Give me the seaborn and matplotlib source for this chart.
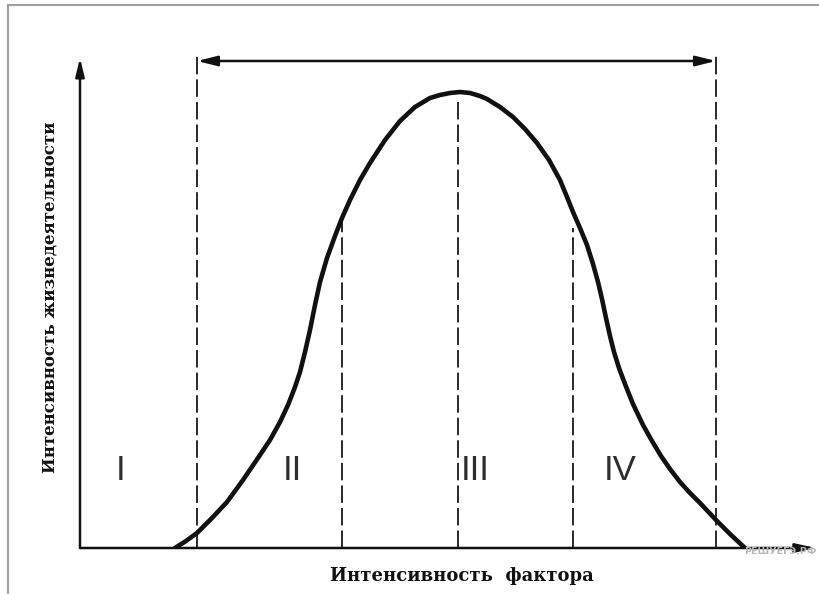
import matplotlib
matplotlib.use("Agg")
import matplotlib.pyplot as plt
from matplotlib.lines import Line2D
import seaborn as sns
import pandas as pd

# ---- data (arbitrary units) ----
curve_x = [9.5, 10.6, 11.7, 13.2, 14.7, 16.3, 18.0, 19.0, 20.0, 20.8, 21.5, 22.0,
           22.5, 23.0, 23.5, 24.0, 24.7, 25.5, 26.2, 27.0, 28.0, 29.0, 30.5, 32.0,
           33.5, 35.0, 36.0, 37.0, 38.0, 39.0, 40.0, 40.7, 42.0, 43.3, 44.5, 45.7,
           46.9, 48.0, 48.7, 49.3, 50.0, 50.7, 51.3, 51.8, 52.2, 52.6, 53.0, 53.4,
           53.9, 54.5, 55.3, 56.3, 57.2, 58.1, 59.0, 60.0, 61.0, 62.0, 63.7, 65.0,
           66.5]
curve_y = [0.0, 0.7, 1.5, 3.0, 4.6, 6.8, 9.3, 10.8, 12.6, 14.3, 16.1, 17.6,
           19.6, 21.8, 24.3, 26.6, 29.0, 31.2, 33.0, 34.8, 36.8, 38.5, 40.8, 42.7,
           44.1, 45.0, 45.3, 45.5, 45.6, 45.5, 45.2, 44.9, 44.1, 43.1, 41.9, 40.5,
           38.8, 36.8, 35.1, 33.6, 32.0, 30.3, 28.4, 26.6, 24.9, 23.0, 21.2, 19.6,
           18.0, 16.4, 14.4, 12.3, 10.7, 9.2, 7.9, 6.6, 5.5, 4.5, 2.7, 1.4,
           0.0]

boundary_x = [11.7, 26.2, 37.8, 49.3, 63.6]
boundary_top = [49.6, 33.3, 44.6, 32.0, 49.6]

region_labels = ["I", "II", "III", "IV"]
region_x = [4.1, 21.2, 39.5, 54.0]
region_y = [7.8, 7.8, 7.8, 7.8]

range_start, range_end, range_y = 11.7, 63.6, 48.7

x_label = "Интенсивность  фактора"
y_label = "Интенсивность жизнедеятельности"
watermark = "РЕШУЕГЭ.РФ"

# ---- figure ----
sns.set_theme(style="white")
plt.rcParams["font.family"] = ["Liberation Sans", "DejaVu Sans"]

W, H = 820, 594
fig = plt.figure(figsize=(W / 100, H / 100), dpi=100)
fig.patch.set_facecolor("white")
ax = fig.add_axes([80 / W, (H - 548) / H, 740 / W, 500 / H])
ax.set_xlim(0, 74)
ax.set_ylim(0, 50)
ax.set_axis_off()

ink = "#111111"

df = pd.DataFrame({"x": curve_x, "y": curve_y})
sns.lineplot(data=df, x="x", y="y", sort=False, estimator=None, ax=ax,
             color=ink, linewidth=3.3, solid_joinstyle="round",
             solid_capstyle="round", zorder=5)

for bx, bt in zip(boundary_x, boundary_top):
    ax.plot([bx, bx], [0, bt], color="#2a2a2a", linewidth=1.4,
            dashes=(9, 2.6), zorder=3, clip_on=False)

# axes with arrows
ax.annotate("", xy=(0, 49.0), xytext=(0, 0),
            arrowprops=dict(arrowstyle="-|>,head_length=0.9,head_width=0.22",
                            color=ink, lw=1.8, shrinkA=0, shrinkB=0),
            annotation_clip=False)
ax.annotate("", xy=(73.6, 0), xytext=(0, 0),
            arrowprops=dict(arrowstyle="-|>,head_length=1.0,head_width=0.22",
                            color=ink, lw=1.8, shrinkA=0, shrinkB=0),
            annotation_clip=False, zorder=6)

# top double arrow
ax.annotate("", xy=(range_end, range_y), xytext=(range_start, range_y),
            arrowprops=dict(arrowstyle="<|-|>,head_length=1.0,head_width=0.25",
                            color=ink, lw=1.8, shrinkA=0, shrinkB=0),
            annotation_clip=False)

for lab, rx, ry in zip(region_labels, region_x, region_y):
    ax.text(rx, ry, lab, fontsize=25, color="#2e2e2e", ha="center", va="center",
            family=["Liberation Sans", "DejaVu Sans"])

fig.text(462 / W, 1 - 576 / H, x_label, ha="center", va="center",
         fontsize=13, fontweight="bold", color=ink,
         family=["DejaVu Serif", "Liberation Serif"])
fig.text(50 / W, 1 - 297 / H, y_label, ha="center", va="center", rotation=90,
         fontsize=12, fontweight="bold", color=ink,
         family=["DejaVu Serif", "Liberation Serif"])

# frame
fig.add_artist(Line2D([8 / W, 8 / W], [0, 1 - 5 / H], transform=fig.transFigure,
                      color="#a0a0a0", linewidth=1.5))
fig.add_artist(Line2D([8 / W, 1], [1 - 5 / H, 1 - 5 / H], transform=fig.transFigure,
                      color="#a0a0a0", linewidth=1.5))

# watermark
fig.text(817 / W, 1 - 552 / H, watermark, fontsize=6.8, fontweight="bold",
         color="#b8b8b8", ha="right", va="center", zorder=0,
         family=["DejaVu Sans Condensed", "DejaVu Sans"])

fig.savefig("out.png", dpi=100, facecolor="white")
